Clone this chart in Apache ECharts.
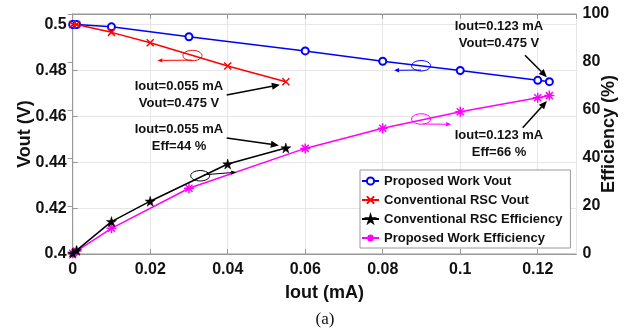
<!DOCTYPE html>
<html><head><meta charset="utf-8">
<script src="https://cdn.jsdelivr.net/npm/echarts/dist/echarts.min.js"></script>
<style>html,body{margin:0;padding:0;background:#fff}#c{width:632px;height:332px}</style>
</head><body><div id="c"></div>
<script>
// ---- data ----
const xProposed = [0, 0.001, 0.01, 0.03, 0.06, 0.08, 0.1, 0.12, 0.123];
const voutProposed = [0.5, 0.5, 0.499, 0.4947, 0.4885, 0.484, 0.48, 0.4757, 0.4751];
const effProposed = [0.3, 1.2, 10.7, 27.4, 44, 52.4, 59.3, 65.1, 66];
const xConventional = [0, 0.001, 0.01, 0.02, 0.04, 0.055];
const voutConventional = [0.5, 0.5, 0.4966, 0.4921, 0.4819, 0.4751];
const effConventional = [0.3, 1.5, 13.5, 22, 37.5, 44.2];
const seriesNames = ['Proposed Work Vout', 'Conventional RSC Vout', 'Conventional RSC Efficiency', 'Proposed Work Efficiency'];
const xLabel = 'Iout (mA)';
const yLeftLabel = 'Vout (V)';
const yRightLabel = 'Efficiency (%)';
const captionText = '(a)';
const annotationTexts = [
  ['Iout=0.055 mA', 'Vout=0.475 V'],
  ['Iout=0.055 mA', 'Eff=44 %'],
  ['Iout=0.123 mA', 'Vout=0.475 V'],
  ['Iout=0.123 mA', 'Eff=66 %']
];

const zip = (xs, ys) => xs.map((x, i) => [x, ys[i]]);
const F = '"Liberation Sans", Arial, sans-serif';
const AX = '#999';
const GRIDC = '#e6e6e6';
const fmt = v => String(+(+v).toFixed(2));

const axisCommon = {
  axisLine: {show: true, lineStyle: {color: AX, width: 1}},
  axisTick: {show: true, inside: true, length: 5, lineStyle: {color: AX}},
  axisLabel: {color: '#111', fontFamily: F, fontWeight: 'bold', fontSize: 16, showMaxLabel: false, formatter: fmt},
  nameTextStyle: {color: '#111', fontFamily: F, fontWeight: 'bold', fontSize: 18},
  nameMoveOverlap: false
};

const xSym = 'path://M0,0L10,10M10,0L0,10';
const starSym = 'path://M50,0L61,35L98,35L68,57L79,91L50,70L21,91L32,57L2,35L39,35Z';
const astSym = 'path://M5,0L5,10M0,5L10,5M1.5,1.5L8.5,8.5M8.5,1.5L1.5,8.5';

const option = {
  animation: false,
  backgroundColor: '#fff',
  grid: {left: 72.7, right: 55.5, top: 14, bottom: 78, show: true, borderColor: AX, borderWidth: 1,
         backgroundColor: '#fff', containLabel: false, outerBoundsMode: 'none'},
  legend: {
    orient: 'vertical', left: 360, top: 170,
    data: seriesNames,
    itemWidth: 17, itemHeight: 9, itemGap: 5,
    padding: [4, 8, 3, 1],
    backgroundColor: '#fff', borderColor: AX, borderWidth: 1,
    textStyle: {color: '#111', fontFamily: F, fontWeight: 'bold', fontSize: 13, lineHeight: 14}
  },
  xAxis: [
    Object.assign({}, axisCommon, {
      type: 'value', min: 0, max: 0.13, interval: 0.02, position: 'bottom',
      name: xLabel, nameLocation: 'middle', nameGap: 30,
      axisLabel: Object.assign({}, axisCommon.axisLabel, {margin: 8}),
      splitLine: {show: true, lineStyle: {color: GRIDC}}
    }),
    {type: 'value', min: 0, max: 0.13, interval: 0.02, position: 'top',
     axisLine: {show: true, lineStyle: {color: AX}},
     axisTick: {show: true, inside: true, length: 5, lineStyle: {color: AX}},
     axisLabel: {show: false}, splitLine: {show: false}}
  ],
  yAxis: [
    Object.assign({}, axisCommon, {
      type: 'value', min: 0.4, max: 0.5046, interval: 0.02, position: 'left',
      name: yLeftLabel, nameLocation: 'middle', nameGap: 39, nameRotate: 90,
      axisLabel: Object.assign({}, axisCommon.axisLabel, {margin: 6}),
      splitLine: {show: true, lineStyle: {color: GRIDC}}
    }),
    Object.assign({}, axisCommon, {
      type: 'value', min: 0, max: 100, interval: 20, position: 'right',
      name: yRightLabel, nameLocation: 'middle', nameGap: 24, nameRotate: 90,
      axisLabel: Object.assign({}, axisCommon.axisLabel, {margin: 6, showMaxLabel: true}),
      splitLine: {show: false}
    })
  ],
  series: [
    {name: seriesNames[0], type: 'line', xAxisIndex: 0, yAxisIndex: 0, data: zip(xProposed, voutProposed),
     symbol: 'emptyCircle', symbolSize: 7, lineStyle: {color: '#0000ff', width: 1.5},
     itemStyle: {color: '#0000ff', borderColor: '#0000ff', borderWidth: 1.5}, z: 3},
    {name: seriesNames[1], type: 'line', xAxisIndex: 0, yAxisIndex: 0, data: zip(xConventional, voutConventional),
     symbol: xSym, symbolSize: 7, lineStyle: {color: '#ff0000', width: 1.5},
     itemStyle: {color: '#ff0000', borderColor: '#ff0000', borderWidth: 1.5}, z: 4},
    {name: seriesNames[2], type: 'line', xAxisIndex: 0, yAxisIndex: 1, data: zip(xConventional, effConventional),
     symbol: starSym, symbolSize: 10, lineStyle: {color: '#000', width: 1.5},
     itemStyle: {color: '#000', borderColor: '#000', borderWidth: 0.5}, z: 4},
    {name: seriesNames[3], type: 'line', xAxisIndex: 0, yAxisIndex: 1, data: zip(xProposed, effProposed),
     symbol: astSym, symbolSize: 10, lineStyle: {color: '#ff00ff', width: 1.5},
     itemStyle: {color: '#ff00ff', borderColor: '#ff00ff', borderWidth: 1.5}, z: 3}
  ]
};

const chart = echarts.init(document.getElementById('c'), null, {renderer: 'canvas'});
chart.setOption(option);

function px(x, y, axis) { return chart.convertToPixel({xAxisIndex: 0, yAxisIndex: axis}, [x, y]); }
function arrow(x1, y1, x2, y2, color, lw, hl, hw) {
  const a = Math.atan2(y2 - y1, x2 - x1);
  const bx = x2 - hl * Math.cos(a), by = y2 - hl * Math.sin(a);
  const nx = -Math.sin(a) * hw, ny = Math.cos(a) * hw;
  return [
    {type: 'line', shape: {x1: x1, y1: y1, x2: bx, y2: by}, style: {stroke: color, lineWidth: lw}, z: 100, silent: true},
    {type: 'polygon', shape: {points: [[x2, y2], [bx + nx, by + ny], [bx - nx, by - ny]]}, style: {fill: color}, z: 100, silent: true}
  ];
}

const last = a => a[a.length - 1];
// callouts: target data point + pixel offsets for arrow tip, arrow tail and text
const callouts = [
  {pt: px(last(xConventional), last(voutConventional), 0), tip: [-6, 3], tail: [226.7, 95], text: [179, 78], lines: annotationTexts[0]},
  {pt: px(last(xConventional), last(effConventional), 1), tip: [-7, -2.5], tail: [226.7, 138], text: [179, 121], lines: annotationTexts[1]},
  {pt: px(last(xProposed), last(voutProposed), 0), tip: [-2.5, -4.5], tail: [525, 55.3], text: [499, 18], lines: annotationTexts[2]},
  {pt: px(last(xProposed), last(effProposed), 1), tip: [-2.5, 5.5], tail: [522.7, 127.7], text: [499, 127], lines: annotationTexts[3]}
];
// axis-indicator ellipses (data coords) with arrows pointing to the relevant axis
const ellipses = [
  {c: px(0.0309, 0.4865, 0), color: '#ff0000', from: [0, 4.6], len: -35},
  {c: px(0.0899, 0.48205, 0), color: '#0000ff', from: [0, 4.3], len: -27},
  {c: px(0.0329, 32.6, 1), color: '#000', from: [4, -1], len: 32, dy: -2.5},
  {c: px(0.0899, 56.25, 1), color: '#ff00ff', from: [2, 5], len: 28}
];

const g = [];
callouts.forEach(c => {
  g.push({type: 'text', x: c.text[0], y: c.text[1], z: 100, silent: true,
    style: {text: c.lines.join('\n'), align: 'center', verticalAlign: 'top', fill: '#111',
            font: 'bold 13px ' + F, lineHeight: 17}});
  g.push(...arrow(c.tail[0], c.tail[1], c.pt[0] + c.tip[0], c.pt[1] + c.tip[1], '#000', 1.5, 8, 3.5));
});
ellipses.forEach(e => {
  g.push({type: 'ellipse', shape: {cx: e.c[0], cy: e.c[1], rx: 9.5, ry: 5.2}, z: 100, silent: true,
          style: {fill: 'none', stroke: e.color, lineWidth: 1}});
  const sx = e.c[0] + e.from[0], sy = e.c[1] + e.from[1];
  g.push(...arrow(sx, sy, sx + e.len, sy + (e.dy || 0.3), e.color, 1, 5, 2.2));
});
g.push({type: 'text', x: 325, y: 320, z: 100, silent: true,
  style: {text: captionText, align: 'center', verticalAlign: 'middle', fill: '#111', font: '17px "Liberation Serif", "Times New Roman", serif'}});

chart.setOption({graphic: g});
</script>
</body></html>
